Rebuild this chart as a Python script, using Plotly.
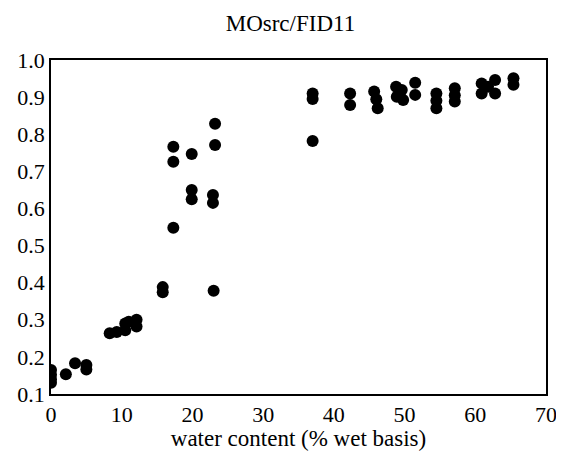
import plotly.graph_objects as go

water_content = [
    0.0, 0.0, 0.0, 0.0, 2.1, 3.4, 5.0, 5.0,
    8.3, 9.3, 10.5, 10.5, 12.1, 12.1, 11.0,
    15.8, 15.8, 17.3, 17.3, 17.3, 19.9, 19.9, 19.9,
    23.2, 23.2, 22.9, 22.9, 23.0,
    37.0, 37.0, 37.0, 42.3, 42.3, 45.7, 46.0, 46.2,
    48.8, 48.9, 49.8, 49.6, 51.5, 51.5,
    54.5, 54.5, 54.5, 57.1, 57.1, 57.1,
    60.9, 60.9, 61.8, 62.8, 62.8, 65.4, 65.4,
]
ratio = [
    0.165, 0.152, 0.140, 0.130, 0.153, 0.183, 0.178, 0.166,
    0.264, 0.267, 0.290, 0.272, 0.300, 0.282, 0.295,
    0.388, 0.374, 0.766, 0.726, 0.548, 0.747, 0.650, 0.625,
    0.828, 0.771, 0.636, 0.615, 0.378,
    0.910, 0.895, 0.782, 0.910, 0.879, 0.915, 0.894, 0.870,
    0.928, 0.901, 0.892, 0.919, 0.939, 0.906,
    0.910, 0.890, 0.870, 0.924, 0.905, 0.888,
    0.937, 0.910, 0.928, 0.946, 0.910, 0.951, 0.933,
]

x_ticks = [0, 10, 20, 30, 40, 50, 60, 70]
y_ticks = [0.1, 0.2, 0.3, 0.4, 0.5, 0.6, 0.7, 0.8, 0.9, 1.0]

font = "Liberation Serif, Times New Roman, serif"

fig = go.Figure(go.Scatter(
    x=water_content, y=ratio, mode="markers",
    marker=dict(color="black", size=12, line=dict(width=0)),
))

fig.update_layout(
    width=556, height=443,
    margin=dict(l=43, r=18, t=52, b=57),
    paper_bgcolor="white", plot_bgcolor="white",
    showlegend=False,
    font=dict(family=font, color="black", size=22),
    title=dict(text="MOsrc/FID11", x=0.508, xanchor="center", xref="container",
               y=0.966, yanchor="middle", yref="container",
               font=dict(family=font, size=23, color="black")),
)
fig.update_xaxes(
    range=[0, 70], tickvals=x_ticks, ticktext=[str(v) for v in x_ticks],
    showgrid=False, zeroline=False, showline=True, linecolor="black", linewidth=1.5,
    mirror=True, ticks="", automargin=False,
    title=dict(text="water content (% wet basis)", font=dict(family=font, size=23), standoff=18),
    tickfont=dict(family=font, size=22),
)
fig.update_yaxes(
    range=[0.1, 1.0], tickvals=y_ticks, ticktext=[f"{v:.1f}" for v in y_ticks],
    showgrid=False, zeroline=False, showline=True, linecolor="black", linewidth=1.5,
    mirror=True, ticks="", automargin=False,
    tickfont=dict(family=font, size=22),
)

fig.write_html("out.html")
